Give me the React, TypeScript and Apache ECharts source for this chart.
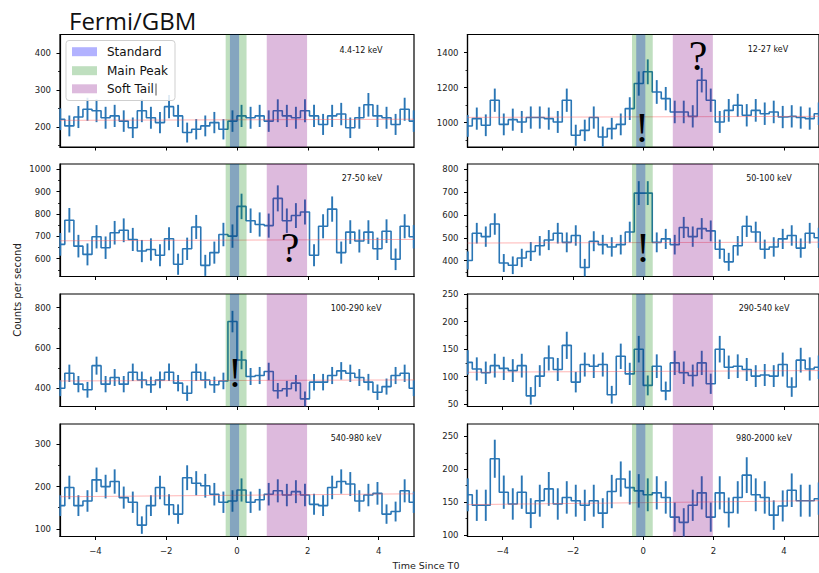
import React, { useEffect, useRef } from "react";
import * as echarts from "echarts";

// Light-curve binning: 40 bins of 0.256 s spanning T0 ± 5.12 s
const BIN_WIDTH = 0.256;
const BIN_START = -5.12;
const binCenters = Array.from({ length: 40 }, (_, i) => +(BIN_START + (i + 0.5) * BIN_WIDTH).toFixed(3));

// Count rates (counts / s) per energy channel
const rate_4_12 = [221, 203, 227, 248, 244, 225, 230, 216, 198, 244, 225, 212, 255, 230, 185, 194, 203, 212, 194, 216, 230, 225, 230, 216, 244, 230, 225, 244, 230, 207, 230, 235, 198, 225, 260, 230, 225, 207, 248, 216];
const rate_12_27 = [981, 1023, 985, 1128, 990, 1017, 1004, 1029, 1029, 1023, 1004, 1128, 928, 956, 1029, 918, 966, 990, 1080, 1223, 1290, 1175, 1137, 1061, 1061, 1036, 1242, 1128, 1004, 1070, 1099, 1042, 1070, 1051, 1061, 1032, 1036, 1029, 1023, 1051];
const rate_27_50 = [664, 772, 656, 619, 698, 649, 716, 727, 686, 634, 641, 615, 689, 575, 644, 742, 570, 627, 708, 701, 834, 770, 753, 748, 870, 770, 793, 809, 615, 745, 822, 627, 719, 679, 719, 644, 723, 597, 745, 698];
const rate_50_100 = [401, 520, 505, 560, 390, 380, 412, 440, 465, 490, 520, 480, 510, 370, 485, 470, 460, 470, 525, 695, 695, 480, 495, 470, 545, 505, 540, 530, 450, 395, 465, 550, 525, 450, 460, 495, 510, 455, 520, 500];
const rate_100_290 = [400, 474, 420, 392, 512, 420, 453, 420, 479, 441, 417, 441, 479, 425, 375, 479, 441, 417, 436, 731, 540, 458, 463, 483, 387, 397, 425, 347, 430, 430, 463, 486, 474, 453, 430, 380, 408, 463, 474, 400];
const rate_290_540 = [126, 114, 107, 120, 115, 111, 120, 65, 101, 134, 113, 157, 90, 122, 119, 122, 67, 137, 105, 150, 84, 119, 74, 125, 107, 102, 125, 87, 150, 117, 119, 113, 101, 103, 101, 122, 81, 130, 114, 117];
const rate_540_980 = [155, 198, 155, 166, 216, 200, 212, 174, 163, 109, 155, 198, 157, 135, 221, 208, 202, 182, 163, 166, 192, 163, 169, 182, 190, 180, 188, 180, 158, 155, 198, 212, 206, 166, 180, 184, 135, 141, 190, 163];
const rate_980_2000 = [161, 145, 145, 216, 165, 147, 165, 133, 152, 170, 147, 157, 152, 145, 152, 133, 166, 185, 172, 167, 161, 164, 157, 127, 119, 145, 164, 127, 164, 134, 157, 191, 161, 157, 130, 144, 168, 152, 152, 155];

// Background model level at t = -5 s and t = +5 s
const bg_4_12 = [218, 221];
const bg_12_27 = [1030, 1036];
const bg_27_50 = [680, 686];
const bg_50_100 = [477, 481];
const bg_100_290 = [436, 441];
const bg_290_540 = [108, 111];
const bg_540_980 = [176, 183];
const bg_980_2000 = [146, 152];

// Time windows (s since T0)
const standardWindow = [-0.2, 0.06];
const mainPeakWindow = [-0.32, 0.27];
const softTailWindow = [0.84, 1.98];
const windowNames = ["Standard", "Main Peak", "Soft Tail"];

// Tick labels
const xTicks = [-4, -2, 0, 2, 4];
const yTicks_4_12 = [200, 300, 400];
const yMinor_4_12 = [150, 250, 350];
const yTicks_12_27 = [1000, 1200, 1400];
const yMinor_12_27 = [900, 1100, 1300];
const yTicks_27_50 = [600, 700, 800, 900, 1000];
const yMinor_27_50 = [550, 650, 750, 850, 950];
const yTicks_50_100 = [400, 500, 600, 700, 800];
const yMinor_50_100 = [350, 450, 550, 650, 750];
const yTicks_100_290 = [400, 600, 800];
const yMinor_100_290 = [500, 700];
const yTicks_290_540 = [50, 100, 150, 200, 250];
const yMinor_290_540 = [75, 125, 175, 225];
const yTicks_540_980 = [100, 200, 300];
const yMinor_540_980 = [150, 250];
const yTicks_980_2000 = [100, 150, 200, 250];
const yMinor_980_2000 = [125, 175, 225];

const channelNames = ["4.4-12 keV", "12-27 keV", "27-50 keV", "50-100 keV", "100-290 keV", "290-540 keV", "540-980 keV", "980-2000 keV"];

const LINE_BLUE = "#2a76b5";
const FONT = "DejaVu Sans";
const WINDOW_COLORS = ["rgba(0,0,255,0.3)", "rgba(0,128,0,0.25)", "rgba(128,0,128,0.27)"];

const LEFT_X = 60;
const LEFT_W = 354;
const RIGHT_X = 467.5;
const RIGHT_W = 356;
const ROW_TOPS = [34.5, 164, 294, 424];
const PANEL_H = 112.5;

const panels = [
  { rates: rate_4_12, bg: bg_4_12, yMin: 146, yMax: 450, ticks: yTicks_4_12, minor: yMinor_4_12, col: 0, row: 0, labelX: 361, labelY: 50 },
  { rates: rate_12_27, bg: bg_12_27, yMin: 861, yMax: 1503, ticks: yTicks_12_27, minor: yMinor_12_27, col: 1, row: 0, labelX: 768, labelY: 49 },
  { rates: rate_27_50, bg: bg_27_50, yMin: 520, yMax: 1024, ticks: yTicks_27_50, minor: yMinor_27_50, col: 0, row: 1, labelX: 362, labelY: 178 },
  { rates: rate_50_100, bg: bg_50_100, yMin: 331, yMax: 822, ticks: yTicks_50_100, minor: yMinor_50_100, col: 1, row: 1, labelX: 769, labelY: 178 },
  { rates: rate_100_290, bg: bg_100_290, yMin: 309, yMax: 868, ticks: yTicks_100_290, minor: yMinor_100_290, col: 0, row: 2, labelX: 356, labelY: 308 },
  { rates: rate_290_540, bg: bg_290_540, yMin: 45.6, yMax: 250.5, ticks: yTicks_290_540, minor: yMinor_290_540, col: 1, row: 2, labelX: 764, labelY: 308 },
  { rates: rate_540_980, bg: bg_540_980, yMin: 82, yMax: 348, ticks: yTicks_540_980, minor: yMinor_540_980, col: 0, row: 3, labelX: 356, labelY: 438 },
  { rates: rate_980_2000, bg: bg_980_2000, yMin: 97.4, yMax: 269, ticks: yTicks_980_2000, minor: yMinor_980_2000, col: 1, row: 3, labelX: 764, labelY: 438 },
];

// Poisson uncertainty of a rate measured over one bin
const rateError = (rate: number) => Math.sqrt(rate / BIN_WIDTH);

const minusFormat = (v: number) => (v < 0 ? "\u2212" + Math.abs(v) : String(v));

function buildOption() {
  const grid: any[] = [];
  const xAxis: any[] = [];
  const yAxis: any[] = [];
  const series: any[] = [];
  const graphic: any[] = [];

  panels.forEach((p, i) => {
    const left = p.col === 0 ? LEFT_X : RIGHT_X;
    const width = p.col === 0 ? LEFT_W : RIGHT_W;
    grid.push({
      left,
      top: ROW_TOPS[p.row],
      width,
      height: PANEL_H,
      show: true,
      borderColor: "#000",
      borderWidth: 1.2,
      backgroundColor: "transparent",
      containLabel: false,
    });
    const bottomRow = p.row === 3;
    xAxis.push({
      type: "value",
      gridIndex: i,
      min: -5,
      max: 5,
      axisLine: { show: true, onZero: false, lineStyle: { color: "#000", width: 1.2 } },
      axisTick: { show: true, customValues: xTicks, length: 3.5, lineStyle: { color: "#000", width: 1 } },
      axisLabel: {
        show: bottomRow,
        customValues: xTicks,
        formatter: minusFormat,
        fontSize: 8.5,
        fontFamily: FONT,
        color: "#222",
        margin: 10,
      },
      splitLine: { show: false },
    });
    yAxis.push({
      type: "value",
      gridIndex: i,
      position: "left",
      min: p.yMin,
      max: p.yMax,
      axisLine: { show: true, onZero: false, lineStyle: { color: "#000", width: 1.2 } },
      axisTick: { show: true, customValues: p.ticks, length: 3.5, lineStyle: { color: "#000", width: 1 } },
      axisLabel: {
        show: true,
        customValues: p.ticks,
        formatter: (v: number) => String(v),
        fontSize: 8.5,
        fontFamily: FONT,
        color: "#222",
        margin: 9,
      },
      splitLine: { show: false },
    });
    // minor ticks share the left spine
    yAxis.push({
      type: "value",
      gridIndex: i,
      position: "left",
      offset: 0,
      min: p.yMin,
      max: p.yMax,
      axisLine: { show: false, onZero: false },
      axisTick: { show: true, customValues: p.minor, length: 2, lineStyle: { color: "#000", width: 0.8 } },
      axisLabel: { show: false },
      splitLine: { show: false },
    });

    // background model
    series.push({
      type: "line",
      xAxisIndex: i,
      yAxisIndex: 2 * i,
      data: [
        [-5, p.bg[0]],
        [5, p.bg[1]],
      ],
      symbol: "none",
      silent: true,
      z: 3,
      lineStyle: { color: "rgba(255,90,90,0.45)", width: 1 },
    });

    // step histogram
    series.push({
      type: "line",
      step: "middle",
      xAxisIndex: i,
      yAxisIndex: 2 * i,
      data: binCenters.map((x, j) => [x, p.rates[j]]),
      symbol: "none",
      silent: true,
      z: 2,
      lineStyle: { color: LINE_BLUE, width: 1.6 },
    });

    // error bars
    series.push({
      type: "custom",
      xAxisIndex: i,
      yAxisIndex: 2 * i,
      silent: true,
      z: 2,
      data: binCenters.map((x, j) => {
        const e = rateError(p.rates[j]);
        return [x, p.rates[j] - e, p.rates[j] + e];
      }),
      encode: { x: 0, y: [1, 2] },
      renderItem: (params: any, api: any) => {
        const a = api.coord([api.value(0), api.value(1)]);
        const b = api.coord([api.value(0), api.value(2)]);
        const cs = params.coordSys;
        const top = cs.y;
        const bottom = cs.y + cs.height;
        const clamp = (v: number) => Math.min(Math.max(v, top), bottom);
        return {
          type: "line",
          shape: { x1: a[0], y1: clamp(a[1]), x2: b[0], y2: clamp(b[1]) },
          style: { stroke: LINE_BLUE, lineWidth: 1.9 },
        };
      },
    });

    // shaded time windows, drawn over the light curve
    series.push({
      type: "custom",
      xAxisIndex: i,
      yAxisIndex: 2 * i,
      silent: true,
      z: 5,
      data: [
        [standardWindow[0], standardWindow[1], 0],
        [mainPeakWindow[0], mainPeakWindow[1], 1],
        [softTailWindow[0], softTailWindow[1], 2],
      ],
      encode: { x: [0, 1] },
      renderItem: (params: any, api: any) => {
        const cs = params.coordSys;
        const x0 = api.coord([api.value(0), p.yMin])[0];
        const x1 = api.coord([api.value(1), p.yMin])[0];
        return {
          type: "rect",
          shape: { x: x0, y: cs.y, width: x1 - x0, height: cs.height },
          style: { fill: WINDOW_COLORS[api.value(2)] },
        };
      },
    });

    graphic.push({
      type: "text",
      x: p.labelX,
      y: p.labelY,
      silent: true,
      style: {
        text: channelNames[i],
        fontSize: 8,
        fontFamily: FONT,
        fill: "#111",
        align: "center",
        verticalAlign: "middle",
      },
    });
  });

  // title
  graphic.push({
    type: "text",
    x: 69,
    y: 20,
    style: { text: "Fermi/GBM", fontSize: 24, fontFamily: "Open Sans", fill: "#111", align: "left", verticalAlign: "middle" },
  });

  // legend box for the time windows
  const legendRows = [51.7, 70.7, 88.8];
  graphic.push({
    type: "rect",
    z: 100,
    shape: { x: 66, y: 40.5, width: 109, height: 60, r: 3 },
    style: { fill: "rgba(255,255,255,0.85)", stroke: "#cfcfcf", lineWidth: 1 },
  });
  windowNames.forEach((name, k) => {
    graphic.push({
      type: "rect",
      z: 101,
      shape: { x: 72, y: legendRows[k] - 4.5, width: 25, height: 9 },
      style: { fill: WINDOW_COLORS[k] },
    });
    graphic.push({
      type: "text",
      z: 101,
      x: 107,
      y: legendRows[k],
      style: { text: name, fontSize: 12, fontFamily: FONT, fill: "#111", align: "left", verticalAlign: "middle" },
    });
  });
  graphic.push({
    type: "line",
    z: 101,
    shape: { x1: 156, y1: 83.5, x2: 156, y2: 95.5 },
    style: { stroke: "#222", lineWidth: 0.8 },
  });

  // annotations
  const marks = [
    { t: "!", x: 642, y: 128 },
    { t: "?", x: 698, y: 56 },
    { t: "?", x: 290, y: 248 },
    { t: "!", x: 643, y: 248 },
    { t: "!", x: 235, y: 373 },
  ];
  marks.forEach((m) => {
    graphic.push({
      type: "text",
      z: 110,
      x: m.x,
      y: m.y,
      style: { text: m.t, fontSize: 42, fontFamily: "Liberation Serif", fill: "#000", align: "center", verticalAlign: "middle" },
    });
  });

  // axis titles
  graphic.push({
    type: "text",
    x: 17,
    y: 290,
    rotation: Math.PI / 2,
    style: { text: "Counts per second", fontSize: 10, fontFamily: FONT, fill: "#222", align: "center", verticalAlign: "middle" },
  });
  graphic.push({
    type: "text",
    x: 426,
    y: 565,
    style: { text: "Time Since T0", fontSize: 9.5, fontFamily: FONT, fill: "#222", align: "center", verticalAlign: "middle" },
  });

  return {
    animation: false,
    backgroundColor: "#fff",
    grid,
    xAxis,
    yAxis,
    series,
    graphic,
  };
}

export default function App() {
  const ref = useRef<HTMLDivElement>(null);
  useEffect(() => {
    if (!ref.current) return;
    const chart = echarts.init(ref.current, undefined, { renderer: "svg" });
    chart.setOption(buildOption() as any);
    return () => chart.dispose();
  }, []);
  return (
    <div
      ref={ref}
      style={{ position: "fixed", left: 0, top: 0, width: 819, height: 573, background: "#fff" }}
    />
  );
}
